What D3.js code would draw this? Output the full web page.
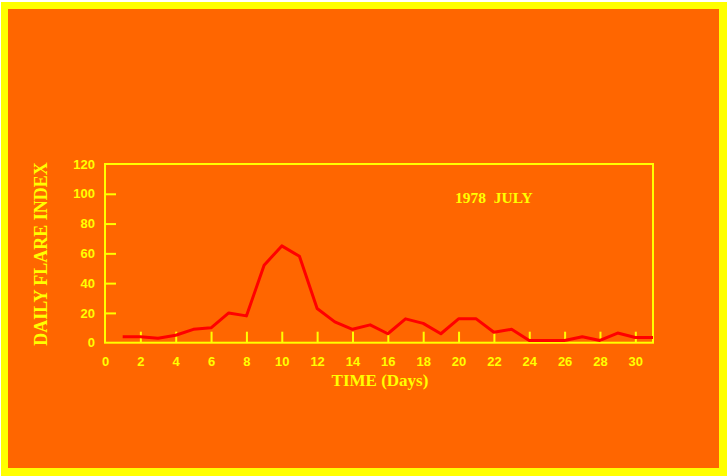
<!DOCTYPE html>
<html><head><meta charset="utf-8">
<script src="https://cdn.jsdelivr.net/npm/d3@7"></script>
<style>html,body{margin:0;padding:0;background:#fff;}svg{display:block;}</style>
</head><body>
<script>
const days = d3.range(1, 32);
const flareIndex = [4,4,3,5,9,10,20,18,52,65,58,23,14,9,12,6,16,13,6,16,16,7,9,1.5,1.5,1.5,4,1.5,6.5,3.5,3.5];
const xTicks = d3.range(0, 31, 2);
const yTicks = [0,20,40,60,80,100,120];
const title = "1978  JULY";
const xLabel = "TIME (Days)";
const yLabel = "DAILY FLARE INDEX";

const W = 727, H = 476;
const YEL = "#ffff00", ORG = "#ff6600", RED = "#ff0000";
const svg = d3.select("body").append("svg").attr("width", W).attr("height", H);
svg.append("rect").attr("x",1).attr("y",2).attr("width",W-1).attr("height",H-2).attr("fill",YEL);
svg.append("rect").attr("x",8).attr("y",9).attr("width",711).attr("height",459).attr("fill",ORG);

const L = 105, R = 653, T = 164, B = 342.7;
const x = d3.scaleLinear().domain([0,31]).range([L,R]);
const y = d3.scaleLinear().domain([0,120]).range([B,T]);

// frame
svg.append("rect").attr("x",L).attr("y",T).attr("width",R-L).attr("height",B-T)
  .attr("fill","none").attr("stroke",YEL).attr("stroke-width",2);

// x ticks (inward)
const xa = svg.append("g").attr("transform",`translate(0,${B})`)
  .call(d3.axisBottom(x).tickValues(xTicks).tickSizeInner(-11).tickSizeOuter(0).tickPadding(14).tickFormat(d3.format("d")));
xa.select(".domain").remove();
xa.selectAll("line").attr("stroke",YEL).attr("stroke-width",2).filter(d=>d===0).remove();
xa.selectAll("text").attr("fill",YEL).attr("font-family","Liberation Sans, Arial, sans-serif")
  .attr("font-weight","bold").attr("font-size",13);

// y ticks (inward)
const ya = svg.append("g").attr("transform",`translate(${L},0)`)
  .call(d3.axisLeft(y).tickValues(yTicks).tickSizeInner(-11).tickSizeOuter(0).tickPadding(10).tickFormat(d3.format("d")));
ya.select(".domain").remove();
ya.selectAll("line").attr("stroke",YEL).attr("stroke-width",2).filter(d=>d===0||d===120).remove();
ya.selectAll("text").attr("fill",YEL).attr("font-family","Liberation Sans, Arial, sans-serif")
  .attr("font-weight","bold").attr("font-size",13);

// line
svg.append("path").datum(days.map((d,i)=>[d, flareIndex[i]]))
  .attr("fill","none").attr("stroke",RED).attr("stroke-width",3).attr("stroke-linejoin","round")
  .attr("d", d3.line().x(d=>x(d[0])).y(d=>y(d[1])));

// title
svg.append("text").attr("x",455).attr("y",203).attr("fill",YEL)
  .attr("font-family","Liberation Serif, Times New Roman, serif").attr("font-weight","bold").attr("font-size",15.5)
  .attr("xml:space","preserve").style("white-space","pre").text(title);

svg.append("text").attr("x",380).attr("y",386).attr("text-anchor","middle").attr("fill",YEL)
  .attr("font-family","Liberation Serif, Times New Roman, serif").attr("font-weight","bold").attr("font-size",17)
  .text(xLabel);

svg.append("text").attr("transform",`translate(47,${254}) rotate(-90)`).attr("text-anchor","middle").attr("fill",YEL)
  .attr("font-family","Liberation Serif, Times New Roman, serif").attr("font-weight","bold").attr("font-size",18)
  .text(yLabel);
</script>
</body></html>
